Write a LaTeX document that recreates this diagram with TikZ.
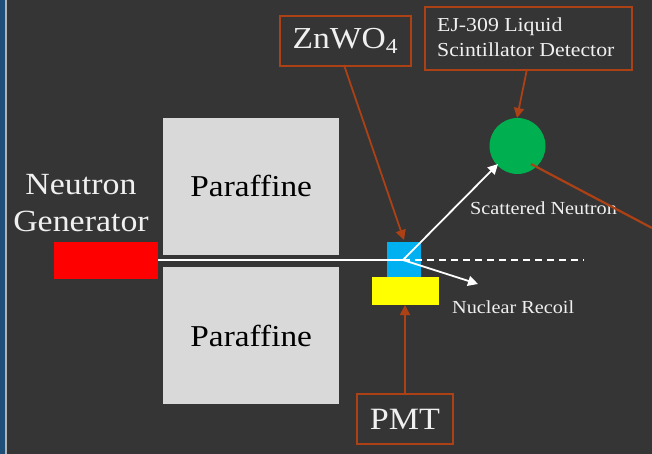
\documentclass[tikz,border=0pt]{standalone}
\usepackage{fontspec}
\setmainfont[FakeStretch=1.1]{Liberation Serif}
\usetikzlibrary{arrows.meta}
\definecolor{bgc}{HTML}{353535}
\definecolor{rust}{HTML}{AD4116}
\definecolor{lgray}{HTML}{D9D9D9}
\definecolor{txt}{HTML}{F0F0F0}
\definecolor{leftblue}{HTML}{1F4E79}
\definecolor{cyanblock}{HTML}{00B0F0}
\definecolor{detgreen}{HTML}{00B050}
\definecolor{pureyellow}{HTML}{FFFF00}
\definecolor{purered}{HTML}{FF0000}
\tikzset{
  px/.style={x=1pt,y=-1pt},
  blockbox/.style={draw=none,inner sep=0pt,anchor=north west},
  parbox/.style={blockbox,fill=lgray,text=black,font=\fontsize{30.3}{34}\selectfont,minimum width=176pt,minimum height=136.5pt},
  labelbox/.style={draw=rust,line width=1.8pt,anchor=north west,inner sep=0pt,text=txt},
  rustarrow/.style={draw=rust,line width=1.8pt,-{Triangle[length=10pt,width=10pt]}},
  whitearrow/.style={draw=white,line width=1.8pt,-{Triangle[length=10pt,width=10pt]}},
  caption/.style={text=txt,inner sep=0pt,font=\fontsize{18.4}{20}\selectfont}
}
\begin{document}
\begin{tikzpicture}[px]
\useasboundingbox (0,0) rectangle (652,454);
\fill[bgc] (0,0) rectangle (652,454);
\fill[leftblue] (0,0) rectangle (5,454);
\fill[gray!60] (5,0) rectangle (7,454);
\node[parbox] (par1) at (163,118) {\raisebox{-1pt}{Paraffine}};
\node[parbox,minimum height=137pt] (par2) at (163,267) {Paraffine};
\node[blockbox,fill=purered,minimum width=104pt,minimum height=37pt] (gen) at (54,242) {};
\node[blockbox,fill=cyanblock,minimum width=34pt,minimum height=35pt] (crystal) at (387,242) {};
\node[blockbox,fill=pureyellow,minimum width=67pt,minimum height=28pt] (pmtblock) at (372,277) {};
\node[circle,fill=detgreen,minimum size=56pt,inner sep=0pt] (det) at (517.5,146) {};
\node[labelbox,minimum width=131pt,minimum height=50pt,font=\fontsize{30.5}{34}\selectfont] (zn) at (279,15) {ZnWO\textsubscript{4}};
\node[labelbox,minimum width=207pt,minimum height=63pt] (ej) at (424,6) {};
\node[text=txt,inner sep=0pt,anchor=west,align=left,font=\fontsize{19.8}{25}\selectfont] (ejt) at (437,37.5) {EJ-309 Liquid\\Scintillator Detector};
\node[labelbox,minimum width=96pt,minimum height=50pt,font=\fontsize{31}{34}\selectfont] (pmt) at (356,393) {PMT};
\node[text=txt,inner sep=0pt,align=center,font=\fontsize{30.8}{37}\selectfont] (ngl) at (81,203) {Neutron\\Generator};
\node[caption,anchor=west] (sn) at (470,208) {Scattered Neutron};
\node[caption,anchor=west] (nr) at (452,307) {Nuclear Recoil};
\coordinate (hit) at (403,260);
\coordinate (dashend) at (584,260);
\coordinate (recoil) at (478,284);
\coordinate (offpage) at (652,228);
\coordinate (detfoot) at (531,164);
\coordinate (detin) at (498,164);
\coordinate (znend) at (404,240);
\coordinate (znstart) at (344,65);
\coordinate (ejstart) at (527,69);
\coordinate (ejend) at (517,118);
\coordinate (pmtstart) at (405,393);
\coordinate (pmtend) at (405,305);
\coordinate (genend) at (158,260);
\draw[white,line width=2.4pt] (genend) -- (hit);
\draw[white,line width=1.8pt,dash pattern=on 7pt off 5pt] (hit) -- (dashend);
\draw[whitearrow] (hit) -- (detin);
\draw[whitearrow] (hit) -- (recoil);
\draw[rustarrow] (znstart) -- (znend);
\draw[rustarrow] (ejstart) -- (ejend);
\draw[rustarrow] (pmtstart) -- (pmtend);
\draw[rust,line width=2.2pt] (detfoot) -- (offpage);
\end{tikzpicture}
\end{document}
